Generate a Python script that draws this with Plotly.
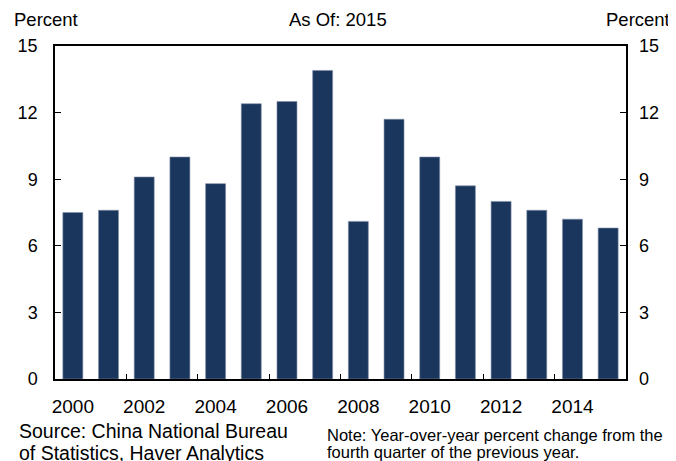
import plotly.graph_objects as go

years = list(range(2000, 2016))
growth = [7.5, 7.6, 9.1, 10.0, 8.8, 12.4, 12.5, 13.9, 7.1, 11.7, 10.0, 8.7, 8.0, 7.6, 7.2, 6.8]
x_tick_labels = ["2000", "2002", "2004", "2006", "2008", "2010", "2012", "2014"]
x_tick_vals = [2000, 2002, 2004, 2006, 2008, 2010, 2012, 2014]
x_minor_ticks = [2001.5, 2003.5, 2005.5, 2007.5, 2009.5, 2011.5, 2013.5]
y_ticks = [0, 3, 6, 9, 12, 15]

BAR = "#1a365d"
FONT = "Liberation Sans, Arial, sans-serif"

# page offset (browser default body margin)
OFF = 8
W, H = 676 - OFF, 461 - OFF
# target plot area in screen pixels
PL, PR, PT, PB = 55, 626, 46, 379
L, T = PL - OFF, PT - OFF
R = W - (PR - OFF)
B = H - (PB - OFF)
pw = PR - PL
ph = PB - PT

def px_x(p):
    return (p - PL) / pw

def px_y(p):
    return (PB - p) / ph

fig = go.Figure()
fig.add_trace(go.Bar(x=years, y=growth, width=0.56,
                     marker=dict(color=BAR, line=dict(color="#7f8fa8", width=0.6)),
                     hoverinfo="skip", showlegend=False))
# invisible helper trace for the secondary axes (right y axis, minor x ticks)
fig.add_trace(go.Scatter(x=[years[0]], y=[0], xaxis="x2", yaxis="y2", mode="markers",
                         marker=dict(opacity=0), hoverinfo="skip", showlegend=False))

tickfont = dict(family=FONT, size=18, color="#000")
xtickfont = dict(family=FONT, size=19, color="#000")
fig.update_layout(
    width=W, height=H,
    margin=dict(l=L, r=R, t=T, b=B, autoexpand=False),
    paper_bgcolor="white", plot_bgcolor="white",
    font=dict(family=FONT, color="#000"),
    xaxis=dict(range=[1999.5, 2015.5], tickvals=x_tick_vals, ticktext=x_tick_labels,
               ticks="", showgrid=False, zeroline=False, showline=True, mirror=True,
               linecolor="#000", linewidth=1.5, tickfont=xtickfont, ticklabelstandoff=9,
               fixedrange=True),
    xaxis2=dict(range=[1999.5, 2015.5], overlaying="x", anchor="y", side="bottom",
                tickvals=x_minor_ticks, ticks="inside", ticklen=5, tickcolor="#000",
                tickwidth=1, showticklabels=False, showgrid=False, zeroline=False,
                showline=False),
    yaxis=dict(range=[0, 15], tickvals=y_ticks, ticks="inside", ticklen=6, tickcolor="#000",
               tickwidth=1, showgrid=False, zeroline=False, showline=True, mirror=True,
               linecolor="#000", linewidth=1.5, tickfont=tickfont, ticklabelstandoff=12),
    yaxis2=dict(range=[0, 15], overlaying="y", side="right", anchor="x", tickvals=y_ticks,
                ticks="inside", ticklen=6, tickcolor="#000", tickwidth=1, showgrid=False,
                zeroline=False, showline=False, tickfont=tickfont, ticklabelstandoff=12),
    bargap=0.44,
)

def ann(text, xpx, ypx, anchor, size):
    fig.add_annotation(text=text, x=px_x(xpx), y=px_y(ypx), xref="paper", yref="paper",
                       xanchor=anchor, yanchor="middle", showarrow=False,
                       font=dict(family=FONT, size=size, color="#000"))

ann("Percent", 12, 20, "left", 18.5)
ann("Percent", 672, 20, "right", 18.5)
ann("As Of: 2015", 338, 20, "center", 18.5)
ann("Source: China National Bureau", 17, 431, "left", 19.5)
ann("of Statistics, Haver Analytics", 17, 453, "left", 19.5)
ann("Note: Year-over-year percent change from the", 325, 435, "left", 16.5)
ann("fourth quarter of the previous year.", 325, 452, "left", 16.5)

fig.write_html("out.html")
